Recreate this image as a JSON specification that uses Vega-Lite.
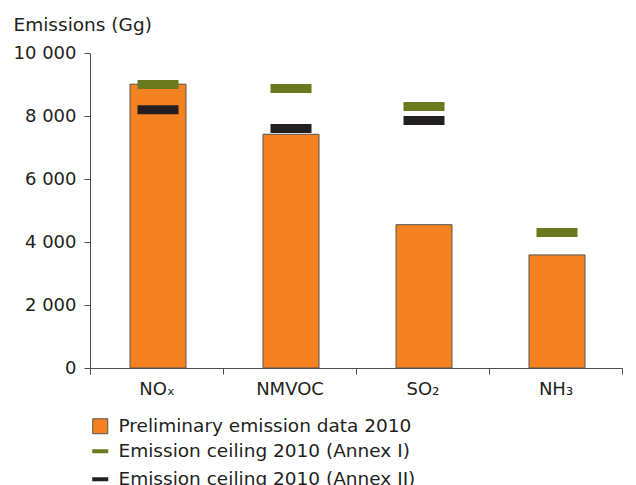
{
  "$schema": "https://vega.github.io/schema/vega-lite/v6.json",
  "autosize": "none",
  "width": 532,
  "height": 315,
  "padding": {"left": 90, "top": 53, "right": 14, "bottom": 117},
  "background": "white",
  "config": {
    "font": "DejaVu Sans",
    "view": {"stroke": null},
    "axis": {"labelFont": "DejaVu Sans", "titleFont": "DejaVu Sans", "labelColor": "#231F20", "titleColor": "#231F20", "domainColor": "#4d4d4d", "tickColor": "#4d4d4d", "labelFontSize": 18, "titleFontSize": 18.5, "titleFontWeight": "normal", "grid": false, "tickSize": 6},
    "legend": {"labelFont": "DejaVu Sans", "labelFontSize": 18.5, "labelColor": "#231F20", "labelLimit": 500}
  },
  "data": {
    "values": [
      {"pollutant": "NOₓ", "series": "Preliminary emission data 2010", "value": 9010},
      {"pollutant": "NMVOC", "series": "Preliminary emission data 2010", "value": 7420},
      {"pollutant": "SO₂", "series": "Preliminary emission data 2010", "value": 4550},
      {"pollutant": "NH₃", "series": "Preliminary emission data 2010", "value": 3590},
      {"pollutant": "NOₓ", "series": "Emission ceiling 2010 (Annex I)", "value": 9000},
      {"pollutant": "NMVOC", "series": "Emission ceiling 2010 (Annex I)", "value": 8870},
      {"pollutant": "SO₂", "series": "Emission ceiling 2010 (Annex I)", "value": 8300},
      {"pollutant": "NH₃", "series": "Emission ceiling 2010 (Annex I)", "value": 4300},
      {"pollutant": "NOₓ", "series": "Emission ceiling 2010 (Annex II)", "value": 8200},
      {"pollutant": "NMVOC", "series": "Emission ceiling 2010 (Annex II)", "value": 7600},
      {"pollutant": "SO₂", "series": "Emission ceiling 2010 (Annex II)", "value": 7860}
    ]
  },
  "encoding": {
    "x": {
      "field": "pollutant", "type": "nominal", "sort": ["NOₓ", "NMVOC", "SO₂", "NH₃"],
      "scale": {"paddingInner": 0, "paddingOuter": 0},
      "axis": {"title": null, "labelAngle": 0, "tickBand": "extent", "labelPadding": 6}
    },
    "y": {
      "field": "value", "type": "quantitative",
      "scale": {"domain": [0, 10000], "nice": false},
      "axis": {"values": [0, 2000, 4000, 6000, 8000, 10000], "labelExpr": "replace(format(datum.value, ','), ',', ' ')", "labelPadding": 8, "title": "Emissions (Gg)", "titleAngle": 0, "titleAlign": "left", "titleBaseline": "alphabetic", "titleX": -77, "titleY": -23}
    }
  },
  "layer": [
    {
      "transform": [{"filter": "datum.series == 'Preliminary emission data 2010'"}],
      "mark": {"type": "bar", "width": 56, "xOffset": 1.5, "stroke": "#555555", "strokeWidth": 1},
      "encoding": {
        "fill": {"field": "series", "type": "nominal", "scale": {"domain": ["Preliminary emission data 2010"], "range": ["#F58220"]},
          "legend": {"title": null, "orient": "none", "legendX": 1, "legendY": 364, "symbolType": "square", "symbolSize": 225, "symbolStrokeColor": "#555555", "symbolStrokeWidth": 1, "symbolOpacity": 1, "labelOffset": 9, "padding": 0}}
      }
    },
    {
      "transform": [{"filter": "datum.series != 'Preliminary emission data 2010'"}],
      "mark": {"type": "tick", "size": 41, "thickness": 9, "opacity": 1, "xOffset": 1.5},
      "encoding": {
        "color": {"field": "series", "type": "nominal", "scale": {"domain": ["Emission ceiling 2010 (Annex I)", "Emission ceiling 2010 (Annex II)"], "range": ["#6B7A1F", "#231F20"]},
          "legend": {"title": null, "orient": "none", "legendX": 1, "legendY": 389, "symbolType": "M-1,-0.25H1V0.25H-1Z", "symbolSize": 256, "symbolStrokeWidth": 0, "symbolOpacity": 1, "labelOffset": 9, "padding": 0, "rowPadding": 9}}
      }
    }
  ]
}
